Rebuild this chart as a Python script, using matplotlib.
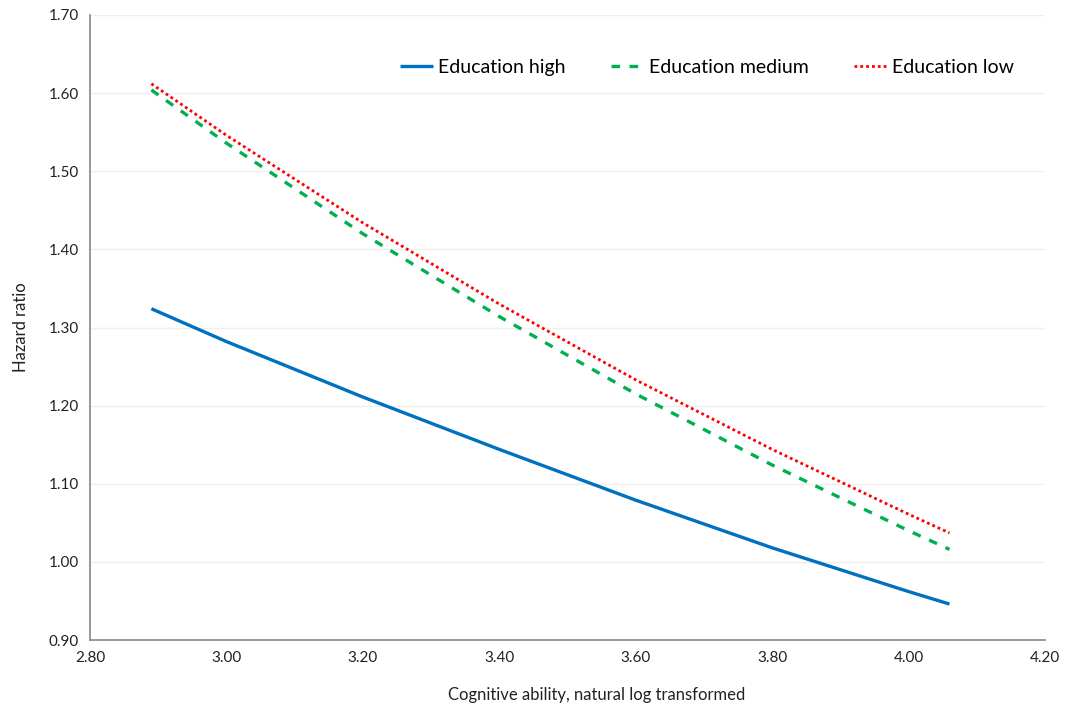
import matplotlib
matplotlib.use("Agg")
import matplotlib.pyplot as plt

x_vals = [2.89, 3.00, 3.20, 3.40, 3.60, 3.80, 4.00, 4.06]
edu_high = [1.324, 1.282, 1.211, 1.144, 1.079, 1.018, 0.962, 0.946]
edu_medium = [1.604, 1.536, 1.420, 1.314, 1.215, 1.124, 1.040, 1.016]
edu_low = [1.612, 1.546, 1.434, 1.330, 1.233, 1.144, 1.061, 1.037]

x_ticks = [2.80, 3.00, 3.20, 3.40, 3.60, 3.80, 4.00, 4.20]
y_ticks = [0.90, 1.00, 1.10, 1.20, 1.30, 1.40, 1.50, 1.60, 1.70]

plt.rcParams['font.family'] = ['Lato', 'DejaVu Sans']

fig = plt.figure(figsize=(10.73, 7.04), dpi=100)
ax = fig.add_axes([90/1073, 64/704, (1045-90)/1073, (640-15)/704])

ax.plot(x_vals, edu_high, color='#0070C0', lw=2.4, solid_capstyle='butt', label='Education high')
ax.plot(x_vals, edu_medium, color='#00B050', lw=2.4, linestyle=(0, (2.6, 2.8)), label='Education medium')
ax.plot(x_vals, edu_low, color='#FF0000', lw=2.0, linestyle=(0, (1, 1.1)), label='Education low')

ax.set_xlim(2.80, 4.20)
ax.set_ylim(0.90, 1.70)
ax.set_xticks(x_ticks)
ax.set_yticks(y_ticks)
ax.set_xticklabels([f"{v:.2f}" for v in x_ticks])
ax.set_yticklabels([f"{v:.2f}" for v in y_ticks])
ax.tick_params(length=0, labelsize=11, colors='#222222', pad=8)
ax.yaxis.grid(True, color='#efefef', lw=1)
ax.set_axisbelow(True)
for s in ['top', 'right']:
    ax.spines[s].set_visible(False)
for s in ['left', 'bottom']:
    ax.spines[s].set_color('#888888')
    ax.spines[s].set_linewidth(1.2)

ax.set_xlabel('Cognitive ability, natural log transformed', fontsize=12, color='#222222', labelpad=16)
ax.xaxis.set_label_coords(0.53, -0.075)
ax.set_ylabel('Hazard ratio', fontsize=12, color='#222222', labelpad=14)

leg = ax.legend(loc='center', bbox_to_anchor=(0.646, 0.916), ncol=3, frameon=False,
                fontsize=14, handlelength=1.7, handletextpad=0.25, columnspacing=2.35)

fig.savefig('out.png', dpi=100, facecolor='white')
